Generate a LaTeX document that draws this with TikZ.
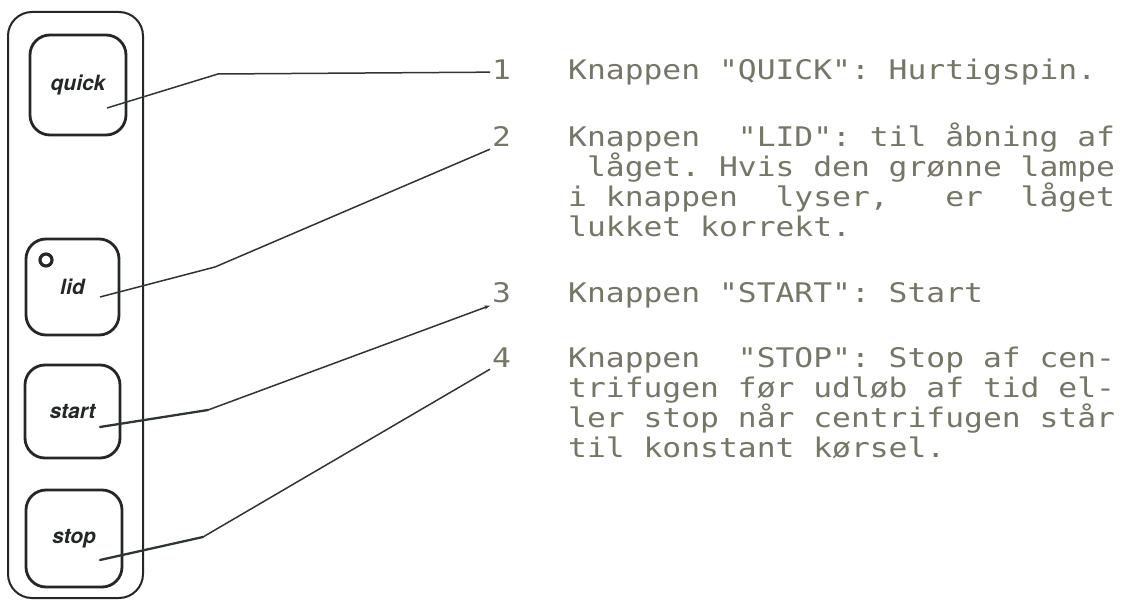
\documentclass[tikz,border=0pt]{standalone}
\usepackage{fontspec}
\setmonofont{DejaVu Sans Mono}[FakeStretch=1.16]
\newfontfamily\btnfont{TeX Gyre Heros}
\usetikzlibrary{arrows.meta}
\definecolor{txtgray}{RGB}{118,118,102}
\definecolor{inkline}{RGB}{45,55,48}
\definecolor{inkbox}{RGB}{35,40,38}
\begin{document}
\begin{tikzpicture}[x=1pt,y=-1pt,
  panelbox/.style={draw=inkbox,line width=2pt,rounded corners=24pt,inner sep=0pt},
  button/.style={draw=inkbox,line width=2.8pt,rounded corners=20pt,inner sep=0pt,
    font=\btnfont\bfseries\itshape\fontsize{21}{24}\selectfont,text=inkbox},
  txt/.style={anchor=base west,inner sep=0pt,text=txtgray,
    font=\ttfamily\fontsize{27}{30}\selectfont},
  num/.style={anchor=base west,inner sep=2pt,text=txtgray,
    font=\ttfamily\fontsize{27}{30}\selectfont},
  leader/.style={draw=inkline,line width=1.5pt,line join=round},
  stub/.style={draw=inkline,line width=2.3pt,line cap=round}]
\useasboundingbox (0,0) rectangle (1129,601);

% panel and buttons
\node[panelbox,minimum width=135pt,minimum height=586pt] (panel) at (75.5,305) {};
\node[button,minimum width=96pt,minimum height=100pt] (quick) at (78,85) {quick};
\node[button,minimum width=93pt,minimum height=96pt] (lid) at (72.5,287) {lid};
\node[button,minimum width=95pt,minimum height=93pt] (start) at (72.5,411.5) {start};
\node[button,minimum width=96pt,minimum height=97pt] (stop) at (74,538.5) {stop};
\node[circle,draw=inkbox,line width=3.2pt,minimum size=12pt,inner sep=0pt] (lamp) at (46,260) {};

% numbers
\node[num] (n1) at (490,80) {1};
\node[num] (n2) at (490,147) {2};
\node[num] (n3) at (490,303) {3};
\node[num] (n4) at (490,367) {4};

% text
\node[txt] (t1) at (568,80) {Knappen "QUICK": Hurtigspin.};
\node[txt] (t2a) at (568,147) {Knappen~~"LID": til åbning af};
\node[txt] (t2b) at (568,177) {\hphantom{x}låget. Hvis den grønne lampe};
\node[txt] (t2c) at (568,207) {i knappen~~lyser,~~~er~~låget};
\node[txt] (t2d) at (568,237) {lukket korrekt.};
\node[txt] (t3) at (568,303) {Knappen "START": Start};
\node[txt] (t4a) at (568,367) {Knappen~~"STOP": Stop af cen-};
\node[txt] (t4b) at (568,397) {trifugen før udløb af tid el-};
\node[txt] (t4c) at (568,427) {ler stop når centrifugen står};
\node[txt] (t4d) at (568,457) {til konstant kørsel.};

% connector bends and ends
\coordinate (k1) at (218,74);
\coordinate (p1) at (107,108);
\coordinate (k2) at (215,267);
\coordinate (p2) at (100,297);
\coordinate (k3) at (208,410);
\coordinate (p3) at (100,427);
\coordinate (k4) at (203,537);
\coordinate (p4) at (100,560);

\draw[leader] ([yshift=-2pt]n1.west) -- (k1) -- (p1);
\draw[leader] (n2.south west) -- (k2) -- (p2);
\draw[leader,{Stealth[length=6pt,width=4pt]}-] (n3.south west) -- (k3);
\draw[stub] (k3) -- (p3);
\draw[leader] (n4.south west) -- (k4);
\draw[stub] (k4) -- (p4);
\end{tikzpicture}
\end{document}
